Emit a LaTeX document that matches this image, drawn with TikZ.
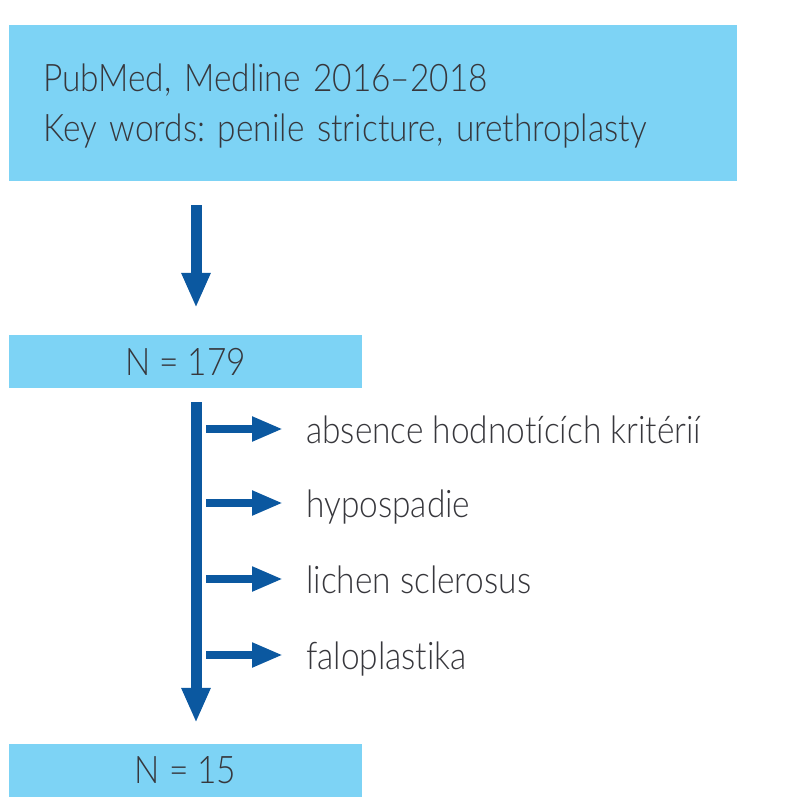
\documentclass[tikz,border=0pt]{standalone}
\usepackage{fontspec}
\setmainfont{Lato Light}[Ligatures=NoCommon, FakeStretch=0.88]
\usetikzlibrary{positioning}
\usetikzlibrary{arrows.meta}
\definecolor{boxblue}{RGB}{125,211,245}
\definecolor{arrowblue}{RGB}{11,88,160}
\definecolor{textgray}{RGB}{55,55,60}
\tikzset{
    mybox/.style = {rectangle, draw=none, fill=boxblue, inner sep=0pt, text=textgray, font=\fontsize{38}{50}\selectfont},
    mytext/.style = {anchor=base west, inner sep=0pt, text=textgray, font=\fontsize{38}{50}\selectfont},
    edgeb/.style = {-{Triangle[length=35pt,width=27pt]}, line width=11pt, arrowblue}, % main flow
    edges/.style = {-{Triangle[length=31pt,width=23pt]}, line width=8pt, arrowblue}, % excluded
}
\frenchspacing

\begin{document}
\begin{tikzpicture}[x=1pt, y=-1pt]
  \useasboundingbox (0,0) rectangle (800,800);
  \coordinate (trunk) at (196,0);
  \node[mybox, minimum width=728pt, minimum height=156pt] (search) at (373,103) {};
  \node[mytext, text width=660pt, align=left] (keys) at (43,92)
    {PubMed, Medline 2016–2018\\Key words: penile stricture, urethroplasty};
  \node[mybox, minimum width=353pt, minimum height=53pt] (n179) at (185.5,361.5) {N = 179};
  \node[mybox, minimum width=353pt, minimum height=53pt] (n15) at (185.5,770.5) {N = 15};
  \node[mytext] (crit) at (306,443) {absence hodnotících kritérií};
  \node[mytext] (hypo) at (306,517) {hypospadie};
  \node[mytext] (lichen) at (306,593) {lichen sclerosus};
  \node[mytext] (falo) at (306,669) {faloplastika};
  \draw[edgeb] ([yshift=-24pt]search.south -| trunk) -- ([yshift=27pt]n179.north -| trunk);
  \draw[edgeb] ([yshift=-14pt]n179.south -| trunk) -- ([yshift=21pt]n15.north -| trunk);
  \draw[edges] ([shift={(10pt,14pt)}]trunk |- crit.base) -- ([shift={(-23pt,14pt)}]crit.base west);
  \draw[edges] ([shift={(10pt,14pt)}]trunk |- hypo.base) -- ([shift={(-23pt,14pt)}]hypo.base west);
  \draw[edges] ([shift={(10pt,14pt)}]trunk |- lichen.base) -- ([shift={(-23pt,14pt)}]lichen.base west);
  \draw[edges] ([shift={(10pt,14pt)}]trunk |- falo.base) -- ([shift={(-23pt,14pt)}]falo.base west);
\end{tikzpicture}
\end{document}
